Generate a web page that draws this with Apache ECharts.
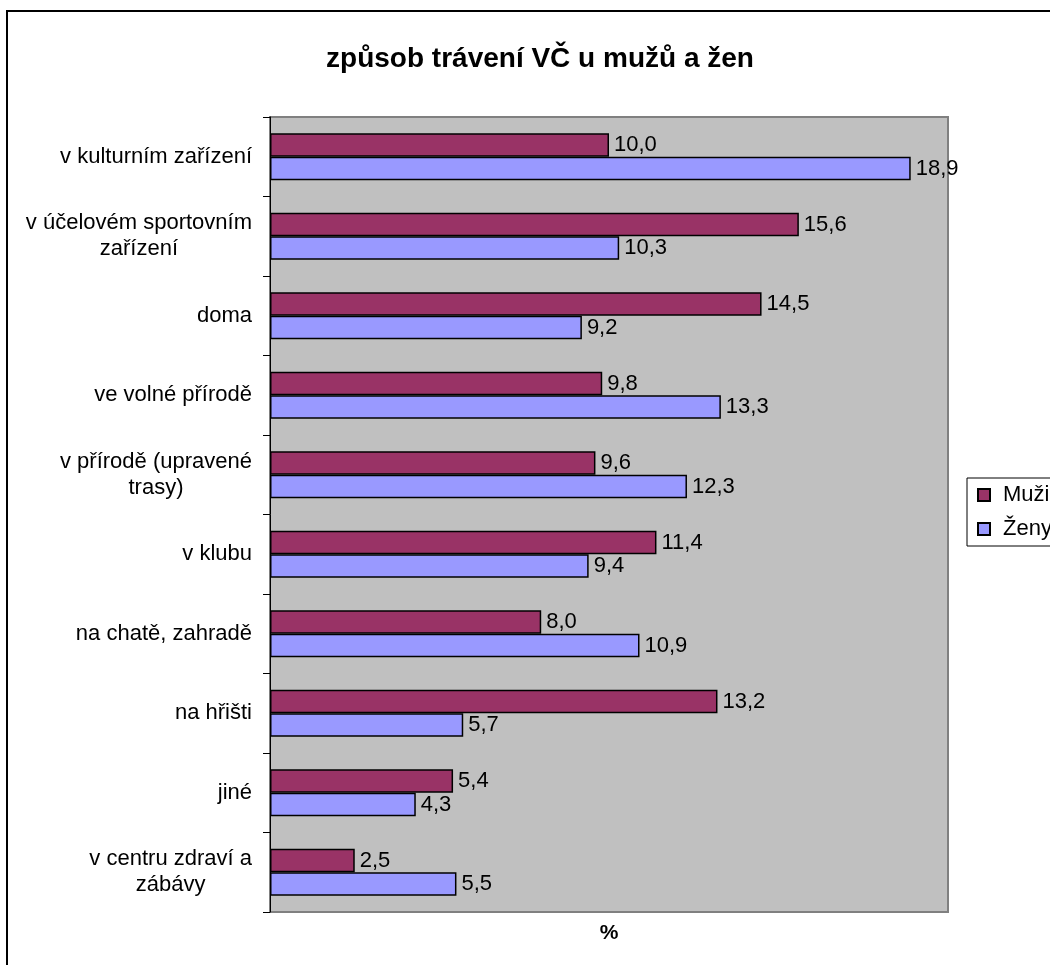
<!DOCTYPE html>
<html>
<head>
<meta charset="utf-8">
<script src="https://cdn.jsdelivr.net/npm/echarts@6/dist/echarts.min.js"></script>
<style>
html,body{margin:0;padding:0;background:#fff;}
#chart{width:1050px;height:965px;}
</style>
</head>
<body>
<div id="chart"></div>
<script>
const categories = [
  'v kulturním zařízení',
  'v účelovém sportovním\nzařízení',
  'doma',
  've volné přírodě',
  'v přírodě (upravené\ntrasy)',
  'v klubu',
  'na chatě, zahradě',
  'na hřišti',
  'jiné',
  'v centru zdraví a\nzábávy'
];
const muzi = [10.0, 15.6, 14.5, 9.8, 9.6, 11.4, 8.0, 13.2, 5.4, 2.5];
const zeny = [18.9, 10.3, 9.2, 13.3, 12.3, 9.4, 10.9, 5.7, 4.3, 5.5];
const seriesNames = ['Muži', 'Ženy'];
const titleText = 'způsob trávení VČ u mužů a žen';
const axisName = '%';

const FONT = '"Liberation Sans", Arial, sans-serif';
const chart = echarts.init(document.getElementById('chart'));
const fmt = p => p.value.toFixed(1).replace('.', ',');

chart.setOption({
  animation: false,
  backgroundColor: '#fff',
  graphic: [{
    type: 'rect',
    z: -10,
    shape: {x: 7, y: 11, width: 1200, height: 1100},
    style: {fill: 'none', stroke: '#000', lineWidth: 2}
  }],
  title: {
    text: titleText,
    left: 535,
    textAlign: 'center',
    top: 40,
    textStyle: {fontFamily: FONT, fontSize: 28, fontWeight: 'bold', color: '#000'}
  },
  legend: {
    orient: 'vertical',
    left: 967,
    top: 478,
    padding: [6, 40, 6, 10],
    borderColor: '#000',
    borderWidth: 1,
    itemWidth: 12,
    itemHeight: 12,
    itemGap: 12,
    icon: 'rect',
    textStyle: {fontFamily: FONT, fontSize: 22, color: '#000', padding: [0, 0, 0, 8]},
    data: seriesNames
  },
  grid: {
    left: 270, top: 117, width: 678, height: 795,
    show: true,
    backgroundColor: '#C0C0C0',
    borderColor: '#808080',
    borderWidth: 2
  },
  xAxis: {
    type: 'value',
    min: 0, max: 20,
    splitLine: {show: false},
    axisLabel: {show: false},
    axisTick: {show: false},
    axisLine: {show: false},
    name: axisName,
    nameLocation: 'middle',
    nameGap: 11,
    nameTextStyle: {fontFamily: FONT, fontSize: 21, fontWeight: 'bold', color: '#000', verticalAlign: 'top'}
  },
  yAxis: {
    type: 'category',
    data: categories,
    inverse: true,
    axisLine: {show: true, lineStyle: {color: '#000', width: 1}},
    axisTick: {show: true, length: 7, lineStyle: {color: '#000'}},
    axisLabel: {
      margin: 18,
      color: '#000',
      fontFamily: FONT,
      fontSize: 22,
      lineHeight: 25,
      formatter: v => v.split('\n').map(s => '{c|' + s + '}').join('\n'),
      rich: {c: {align: 'center', fontFamily: FONT, fontSize: 22, lineHeight: 26, color: '#000'}}
    }
  },
  series: [
    {
      name: seriesNames[0], type: 'bar', data: muzi,
      barGap: '0%', barCategoryGap: '41%',
      itemStyle: {color: '#993366', borderColor: '#000', borderWidth: 1.5},
      label: {show: true, position: 'right', distance: 5, formatter: fmt,
        fontFamily: FONT, fontSize: 22, color: '#000'}
    },
    {
      name: seriesNames[1], type: 'bar', data: zeny,
      barGap: '0%', barCategoryGap: '41%',
      itemStyle: {color: '#9999FF', borderColor: '#000', borderWidth: 1.5},
      label: {show: true, position: 'right', distance: 5, formatter: fmt,
        fontFamily: FONT, fontSize: 22, color: '#000'}
    }
  ]
});
</script>
</body>
</html>
